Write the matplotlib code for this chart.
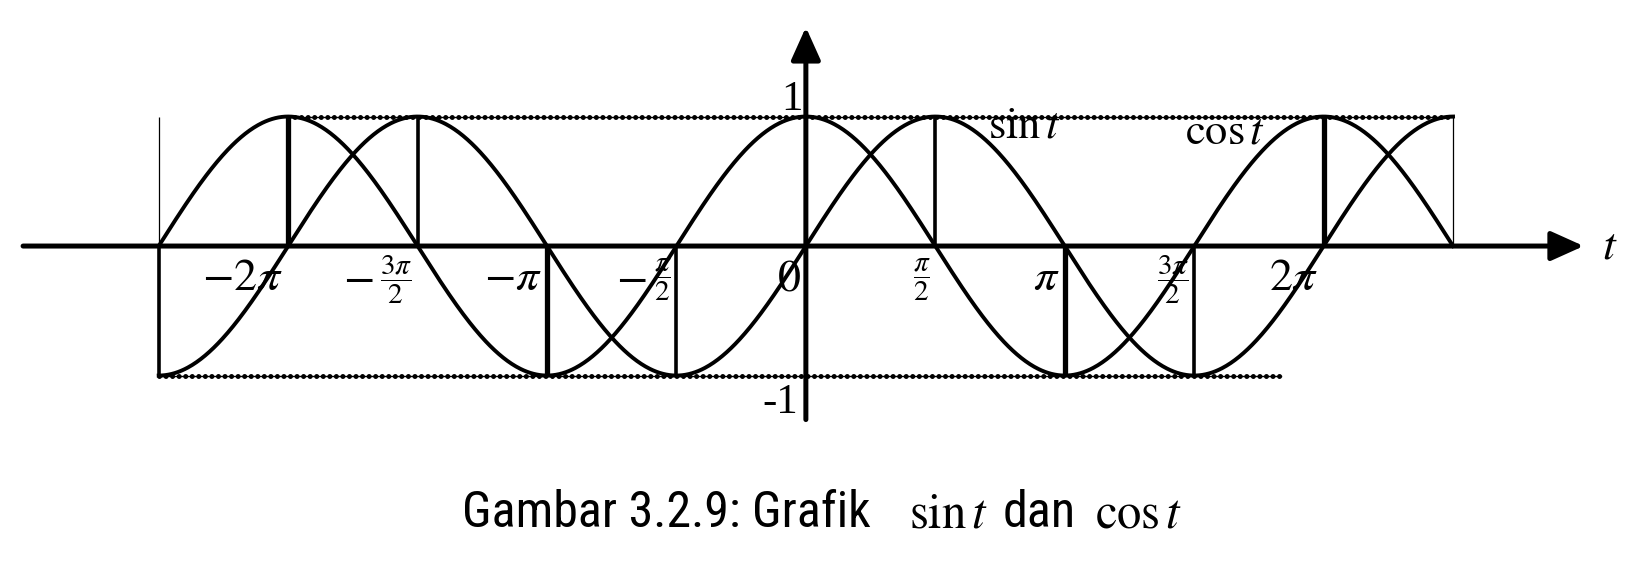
import numpy as np
import matplotlib
matplotlib.use('Agg')
import matplotlib.pyplot as plt
from matplotlib import font_manager

plt.rcParams['mathtext.fontset'] = 'stix'

# everything along t is given in multiples of pi/2
half_pi = np.pi / 2
t_start, t_end = -5, 5

# tick marks on the t axis
tick_mult = [-4, -3, -2, -1, 0, 1, 2, 3, 4]
tick_labels = [r'-2\pi', r'-\dfrac{3\pi}{2}', r'-\pi', r'-\dfrac{\pi}{2}', r'\mathit{0}',
               r'\dfrac{\pi}{2}', r'\pi', r'\dfrac{3\pi}{2}', r'2\pi']

# drop lines from the axis to +1 / -1
up_marks = [-5, -4, -3, 1, 4, 5]
down_marks = [-5, -2, -1, 2, 3]

# dotted guides at y = 1 and y = -1 (start, end)
top_dots = (-4, 5)
bottom_dots = (-5, 3.67)

# caption pieces (math parts in $...$)
caption_parts = ['Gambar 3.2.9: Grafik', r'$\sin t$', 'dan', r'$\cos t$']

# pick a narrow sans for the caption if there is one
installed = {f.name for f in font_manager.fontManager.ttflist}
cap_font = 'Roboto'
for name in ['Roboto Condensed', 'Liberation Sans Narrow']:
    if name in installed:
        cap_font = name
        break

W, H = 1648, 576
fig = plt.figure(figsize=(W / 100, H / 100), dpi=100)
ax = fig.add_axes([0, 0, 1, 1])
ax.set_xlim(-9.78, 10.22)
ax.set_ylim(-2.548, 1.90)
ax.axis('off')

# drop lines
up_lw = [0.9, 3.8, 2.6, 2.6, 3.8, 0.9]
down_lw = [2.6, 3.8, 2.6, 3.8, 2.6]
for m, lw in zip(up_marks, up_lw):
    ax.plot([m * half_pi] * 2, [0, 1], color='black', lw=lw, solid_capstyle='butt', zorder=2)
for m, lw in zip(down_marks, down_lw):
    ax.plot([m * half_pi] * 2, [0, -1], color='black', lw=lw, solid_capstyle='butt', zorder=2)

# the two curves
t = np.linspace(t_start * half_pi, t_end * half_pi, 1200)
ax.plot(t, np.sin(t), color='black', lw=2.8, zorder=3)
ax.plot(t, np.cos(t), color='black', lw=2.8, zorder=3)

# dotted bounds
for (a, b), yv in [(top_dots, 1), (bottom_dots, -1)]:
    ax.plot([a * half_pi, b * half_pi], [yv, yv], color='black', lw=1.0, zorder=3)
    ax.plot([a * half_pi, b * half_pi], [yv, yv], color='black', lw=3.6,
            linestyle=(0, (0.01, 1.3)), dash_capstyle='round', zorder=3)

# axes with arrow heads
arrow = dict(arrowstyle='-|>,head_length=1.0,head_width=0.45', lw=3.6, color='black',
             shrinkA=0, shrinkB=0, mutation_scale=20)
ax.annotate('', xy=(9.44, 0), xytext=(-9.50, 0), arrowprops=arrow, zorder=4)
ax.annotate('', xy=(0, 1.69), xytext=(0, -1.34), arrowprops=arrow, zorder=4)

# tick labels
for m, lab in zip(tick_mult, tick_labels):
    x = m * half_pi - 0.06
    if 'dfrac' in lab:
        frac = ax.text(x, -0.26, '$' + lab.lstrip('-') + '$', fontsize=21,
                       ha='right', va='center', zorder=5)
        if lab.startswith('-'):
            ax.annotate(r'$-$', xy=(0, 0.55), xycoords=frac, xytext=(-5, 0),
                        textcoords='offset points', fontsize=33, ha='right', va='center')
    else:
        ax.text(x, -0.34, '$' + lab + '$', fontsize=33, ha='right', va='baseline', zorder=5)

ax.text(-0.04, 1.05, '1', fontsize=31, family='Liberation Serif', ha='right', va='baseline')
ax.text(-0.10, -1.29, '-1', fontsize=31, family='Liberation Serif', ha='right', va='baseline')
ax.text(9.76, 0.0, '$t$', fontsize=33, ha='center', va='center')

# curve names
ax.text(2.21, 0.84, r'$\sin t$', fontsize=32, ha='left', va='baseline')
ax.text(4.60, 0.795, r'$\cos t$', fontsize=32, ha='left', va='baseline')

# caption, laid out piece by piece on one baseline
renderer = fig.canvas.get_renderer()
gaps = [38, 15, 19, 0]
x_px = 462
for part, gap in zip(caption_parts, gaps):
    is_math = part.startswith('$')
    txt = fig.text(x_px / W, 1 - 527 / H, part, fontsize=35 if is_math else 36,
                   family=cap_font, ha='left', va='baseline')
    x_px = txt.get_window_extent(renderer).x1 + gap

fig.savefig('out.png', dpi=100)
